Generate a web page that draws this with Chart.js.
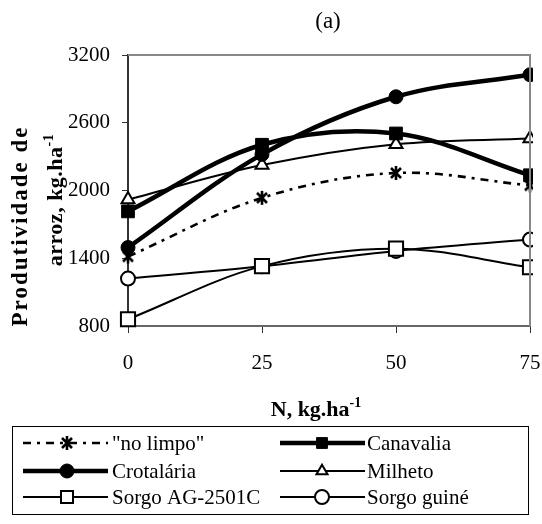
<!DOCTYPE html>
<html><head><meta charset="utf-8">
<script src="https://cdn.jsdelivr.net/npm/chart.js@4/dist/chart.umd.min.js"></script>
<style>html,body{margin:0;padding:0;background:#fff}#wrap{width:542px;height:524px;position:relative}</style>
</head><body><div id="wrap"><canvas id="c" width="542" height="524"></canvas></div>
<script>
// ---- data ----
const categories = ['0', '25', '50', '75'];
const noLimpo    = [1415, 1935, 2155, 2045];
const canavalia  = [1815, 2405, 2505, 2135];
const crotalaria = [1495, 2320, 2830, 3025];
const milheto    = [1920, 2225, 2410, 2460];
const sorgoAG    = [860, 1330, 1485, 1320];
const sorgoGuine = [1220, 1330, 1465, 1565];
const yMin = 800, yMax = 3200, yStep = 600;
const chartTitle = '(a)';
const yTitleLines = ['Produtividade de', 'arroz, kg.ha'];
const xTitleText = 'N, kg.ha';
const unitExp = '-1';
const seriesNames = ['"no limpo"', 'Canavalia', 'Crotalária', 'Milheto', 'Sorgo AG-2501C', 'Sorgo guiné'];

// ---- asterisk marker ----
function makeAsterisk(w, h, lw) {
  const c = document.createElement('canvas'); c.width = w; c.height = h;
  const g = c.getContext('2d'); g.strokeStyle = '#000'; g.lineWidth = lw;
  const mx = w / 2;
  g.beginPath();
  g.moveTo(mx, 1); g.lineTo(mx, h - 1);
  g.moveTo(2, 3); g.lineTo(w - 2, h - 3);
  g.moveTo(w - 2, 3); g.lineTo(2, h - 3);
  g.stroke();
  return c;
}
const asterisk = makeAsterisk(14, 16, 2.6);

const SERIF = "'Liberation Serif', 'Times New Roman', serif";
const tension = 0.35;
const clip = {left: false, top: false, right: 3, bottom: false};

const datasets = [
  {label: seriesNames[0], data: noLimpo, borderColor: '#000', borderWidth: 2.6, borderDash: [8, 6, 3, 6],
   pointStyle: asterisk, pointRadius: 8, backgroundColor: '#000', pointBorderWidth: 0},
  {label: seriesNames[1], data: canavalia, borderColor: '#000', borderWidth: 4.5,
   pointStyle: 'rect', pointRadius: 9, backgroundColor: '#000', pointBackgroundColor: '#000', pointBorderWidth: 1},
  {label: seriesNames[2], data: crotalaria, borderColor: '#000', borderWidth: 4.5,
   pointStyle: 'circle', pointRadius: 7, backgroundColor: '#000', pointBackgroundColor: '#000', pointBorderWidth: 1},
  {label: seriesNames[3], data: milheto, borderColor: '#000', borderWidth: 2,
   pointStyle: 'triangle', pointRadius: 7.5, backgroundColor: '#fff', pointBackgroundColor: '#fff', pointBorderWidth: 2},
  {label: seriesNames[4], data: sorgoAG, borderColor: '#000', borderWidth: 2,
   pointStyle: 'rect', pointRadius: 10, backgroundColor: '#fff', pointBackgroundColor: '#fff', pointBorderWidth: 2},
  {label: seriesNames[5], data: sorgoGuine, borderColor: '#000', borderWidth: 2,
   pointStyle: 'circle', pointRadius: 7, backgroundColor: '#fff', pointBackgroundColor: '#fff', pointBorderWidth: 2}
].map(d => Object.assign({tension: tension, clip: clip, fill: false, pointBorderColor: '#000', pointHoverRadius: d.pointRadius}, d));

function drawSup(ctx, main, sup, x, y, mainFont, supFont, align) {
  ctx.font = mainFont; const w1 = ctx.measureText(main).width;
  ctx.font = supFont; const w2 = ctx.measureText(sup).width;
  let sx = align === 'center' ? x - (w1 + w2) / 2 : x;
  ctx.textAlign = 'left'; ctx.textBaseline = 'alphabetic';
  ctx.font = mainFont; ctx.fillText(main, sx, y);
  ctx.font = supFont; ctx.fillText(sup, sx + w1, y - 9);
}

const decor = {
  id: 'decor',
  afterDatasetsDraw(chart) {
    const ctx = chart.ctx, a = chart.chartArea;
    ctx.save();
    ctx.strokeStyle = '#888'; ctx.lineWidth = 2;
    ctx.beginPath();
    ctx.moveTo(a.left, a.top); ctx.lineTo(a.right, a.top); ctx.lineTo(a.right, a.bottom);
    ctx.stroke();
    ctx.restore();
  },
  afterDraw(chart) {
    const ctx = chart.ctx, a = chart.chartArea;
    ctx.save();
    ctx.fillStyle = '#000';
    // title
    ctx.font = "23px " + SERIF; ctx.textAlign = 'center'; ctx.textBaseline = 'middle';
    ctx.fillText(chartTitle, (a.left + a.right) / 2 - 1, 22);
    // x title
    drawSup(ctx, xTitleText, unitExp, (a.left + a.right) / 2 - 13, 416, "bold 22px " + SERIF, "bold 14px " + SERIF, 'center');
    // y title
    ctx.save();
    ctx.translate(21, 226); ctx.rotate(-Math.PI / 2);
    ctx.font = "bold 23px " + SERIF; ctx.textAlign = 'center'; ctx.textBaseline = 'middle';
    ctx.letterSpacing = '2px';
    ctx.fillText(yTitleLines[0], 0, 0);
    ctx.letterSpacing = '0px';
    ctx.restore();
    ctx.save();
    ctx.translate(62, 200); ctx.rotate(-Math.PI / 2);
    ctx.letterSpacing = '0.5px';
    drawSup(ctx, yTitleLines[1], unitExp, 0, 0, "bold 22px " + SERIF, "bold 14px " + SERIF, 'center');
    ctx.letterSpacing = '0px';
    ctx.restore();
    // legend
    ctx.strokeStyle = '#000'; ctx.lineWidth = 1;
    ctx.strokeRect(12.5, 426.5, 516, 88);
    const rows = [443, 471, 497];
    const cols = [{x0: 23, x1: 108, m: 67, t: 112}, {x0: 280, x1: 365, m: 322, t: 367}];
    chart.data.datasets.forEach((ds, i) => {
      const c = cols[i % 2], y = rows[Math.floor(i / 2)];
      ctx.save();
      ctx.strokeStyle = '#000'; ctx.lineWidth = ds.borderWidth;
      ctx.setLineDash(ds.borderDash || []);
      ctx.beginPath(); ctx.moveTo(c.x0, y); ctx.lineTo(c.x1, y); ctx.stroke();
      ctx.setLineDash([]);
      ctx.fillStyle = ds.pointBackgroundColor || '#000'; ctx.strokeStyle = '#000'; ctx.lineWidth = ds.pointBorderWidth;
      const r = (ds.pointStyle === 'rect' || ds.pointStyle === 'triangle') ? ds.pointRadius * 0.85 : ds.pointRadius;
      Chart.helpers.drawPoint(ctx, {pointStyle: ds.pointStyle, rotation: 0, radius: r, borderWidth: ds.pointBorderWidth}, c.m, y);
      ctx.restore();
      ctx.fillStyle = '#000';
      ctx.font = "21px " + SERIF; ctx.textAlign = 'left'; ctx.textBaseline = 'middle';
      ctx.fillText(ds.label, c.t, y + 1);
    });
    ctx.restore();
  }
};

new Chart(document.getElementById('c'), {
  type: 'line',
  data: {labels: categories, datasets: datasets},
  options: {
    responsive: false, animation: false, events: [],
    layout: {padding: {left: 0, right: 11, top: 55, bottom: 98}},
    plugins: {legend: {display: false}, title: {display: false}, tooltip: {enabled: false}},
    scales: {
      x: {
        type: 'category', offset: false,
        grid: {display: true, drawOnChartArea: false, drawTicks: true, tickLength: 7, color: '#333', lineWidth: 1},
        border: {display: true, color: '#666', width: 2},
        ticks: {font: {family: SERIF, size: 21}, color: '#000', padding: 18, maxRotation: 0, autoSkip: false},
        afterFit: s => { s.height = 100; s.paddingLeft = 0; s.paddingRight = 0; }
      },
      y: {
        min: yMin, max: yMax,
        grid: {display: true, drawOnChartArea: false, drawTicks: true, tickLength: 6, color: '#333', lineWidth: 1},
        border: {display: true, color: '#333', width: 2},
        ticks: {stepSize: yStep, font: {family: SERIF, size: 21}, color: '#000', padding: 12,
                callback: v => String(v)},
        afterFit: s => { s.width = 128; s.paddingTop = 0; s.paddingBottom = 0; }
      }
    }
  },
  plugins: [decor]
});
</script>
</body></html>
